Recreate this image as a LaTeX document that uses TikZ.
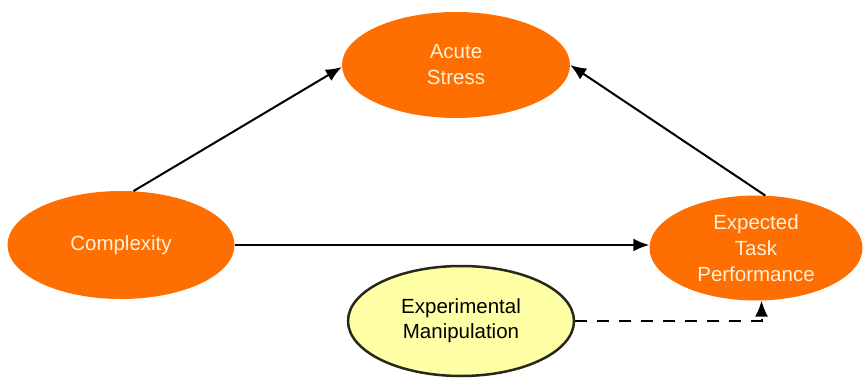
\documentclass[tikz,border=0pt]{standalone}
\usepackage{fontspec}
\setmainfont{Liberation Sans}
\usetikzlibrary{shapes.geometric,arrows.meta}
\begin{document}
\begin{tikzpicture}[x=1pt,y=-1pt,
	factor/.style={ellipse, fill={rgb,255:red, 255; green, 110; blue, 0 }, text={rgb,255:red, 255; green, 240; blue, 215 },
		inner sep=0pt, align=center, font=\fontsize{20.5}{26}\selectfont},
	manipbox/.style={ellipse, draw={rgb,255:red, 40; green, 40; blue, 25 }, line width=2.5pt,
		fill={rgb,255:red, 255; green, 255; blue, 165 }, inner sep=0pt, align=center, font=\fontsize{20.5}{25}\selectfont},
	link/.style={line width=2pt, -{Latex[length=16pt,width=13pt]}}]% path diagram
	\useasboundingbox (0,0) rectangle (863,378);
	\node[factor, minimum width=228pt, minimum height=106pt] (stress) at (456,65) {Acute\\Stress};
	\node[factor, minimum width=227pt, minimum height=108pt] (complexity) at (121,245) {Complexity};
	\node[factor, minimum width=213pt, minimum height=105pt] (perf) at (756,248) {Expected\\Task\\Performance};
	\node[manipbox, minimum width=226pt, minimum height=110pt] (manip) at (461,321) {Experimental\\Manipulation};
	\draw[link] (complexity.77) -- (stress.181);
	\draw[link] (perf.80) -- (stress.east);
	\draw[link] (complexity.east) -- (complexity.east -| perf.west);
	\draw[link, dash pattern=on 12pt off 10pt] (manip.east) -| (perf.276);
\end{tikzpicture}
\end{document}
